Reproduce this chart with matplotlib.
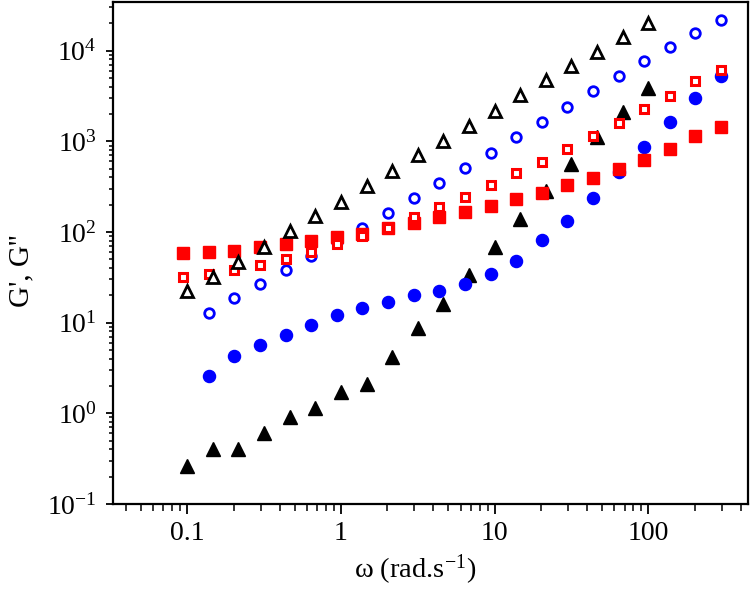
import matplotlib
matplotlib.use("Agg")
import matplotlib.pyplot as plt
from matplotlib.ticker import LogLocator, NullFormatter

plt.rcParams['font.family'] = ['Liberation Serif', 'DejaVu Serif']
plt.rcParams['mathtext.fontset'] = 'custom'
plt.rcParams['mathtext.rm'] = 'Liberation Serif'
plt.rcParams['mathtext.it'] = 'Liberation Serif:italic'

# frequencies (rad/s)
omega_tri = [0.1, 0.147, 0.215, 0.316, 0.464, 0.681, 1.0, 1.47, 2.15, 3.16,
             4.64, 6.81, 10.0, 14.7, 21.5, 31.6, 46.4, 68.1, 100.0]
omega_sq = [0.094, 0.138, 0.202, 0.297, 0.436, 0.640, 0.940, 1.38, 2.02, 2.97,
            4.36, 6.40, 9.40, 13.8, 20.2, 29.7, 43.6, 64.0, 94.0, 138.0, 202.0, 297.0]
omega_circ = omega_sq[1:]

# filled squares (red) - G'
red_Gp = [59.3, 59.8, 62.4, 68, 74, 80, 89, 95, 110, 127, 146, 167, 194, 230,
          272, 328, 398, 500, 624, 825, 1148, 1452]
# open squares (red) - G''
red_Gpp = [31.7, 34.5, 38.2, 43, 50.5, 59.8, 73, 90, 112, 146, 190, 246, 330, 445,
           597, 825, 1148, 1607, 2260, 3190, 4600, 6120]
# filled circles (blue) - G'
blue_Gp = [2.59, 4.3, 5.65, 7.4, 9.4, 12.1, 14.5, 16.7, 20.1, 22.4, 26.6, 34.5,
           48, 81, 133, 236, 456, 875, 1637, 2985, 5260]
# open circles (blue) - G''
blue_Gpp = [12.9, 18.6, 26.5, 38.2, 54.6, 78, 112, 161, 236, 345, 505, 750, 1109,
            1637, 2415, 3620, 5260, 7700, 10900, 15560, 21800]
# filled triangles (black) - G'
black_Gp = [0.26, 0.40, 0.40, 0.61, 0.90, 1.14, 1.71, 2.12, 4.17, 8.7, 16.1, 33.7,
            69, 139, 286, 563, 1109, 2120, 3850]
# open triangles (black) - G''
black_Gpp = [22.6, 32.2, 47.2, 69, 103, 150, 216, 322, 475, 703, 1019, 1490, 2180,
             3220, 4720, 6780, 9750, 14050, 20060]

red = '#ff0000'
blue = '#0000ff'
black = '#000000'

fig = plt.figure(figsize=(7.5, 5.9), dpi=100)
ax = fig.add_axes([0.151, 0.1458, 0.8463, 0.8513])

ax.plot(omega_tri, black_Gp, linestyle='none', marker='^', ms=10.3, color=black, mec=black, zorder=2)
ax.plot(omega_circ, blue_Gp, linestyle='none', marker='o', ms=8.7, color=blue, mec=blue, zorder=3)
ax.plot(omega_circ, blue_Gpp, linestyle='none', marker='o', ms=6.9, mfc='white',
        mec=blue, mew=2.0, zorder=4)
ax.plot(omega_sq, red_Gp, linestyle='none', marker='s', ms=8.0, color=red, mec=red, zorder=5)
ax.plot(omega_sq, red_Gpp, linestyle='none', marker='s', ms=6.0, mfc='white',
        mec=red, mew=2.2, zorder=6)
ax.plot(omega_tri, black_Gpp, linestyle='none', marker='^', ms=8.5, mfc='white',
        mec=black, mew=2.0, zorder=7)

ax.set_xscale('log')
ax.set_yscale('log')
ax.set_xlim(0.033, 445)
ax.set_ylim(0.1, 34700)

ax.xaxis.set_minor_locator(LogLocator(base=10, subs=range(2, 10), numticks=50))
ax.yaxis.set_minor_locator(LogLocator(base=10, subs=range(2, 10), numticks=50))
ax.xaxis.set_minor_formatter(NullFormatter())
ax.yaxis.set_minor_formatter(NullFormatter())
ax.set_xticks([0.1, 1, 10, 100])
ax.set_xticklabels(['0.1', '1', '10', '100'])
yt = [0.1, 1, 10, 100, 1000, 10000]
ax.set_yticks(yt)
ax.set_yticklabels([r'$\mathregular{10^{-1}}$', r'$\mathregular{10^{0}}$', r'$\mathregular{10^{1}}$',
                    r'$\mathregular{10^{2}}$', r'$\mathregular{10^{3}}$', r'$\mathregular{10^{4}}$'])

for s in ax.spines.values():
    s.set_linewidth(1.6)
ax.tick_params(axis='x', which='major', direction='out', length=7, width=1.3, labelsize=20, pad=5,
               top=False)
ax.tick_params(axis='x', which='minor', direction='out', length=5, width=1.1, top=False)
ax.tick_params(axis='y', which='major', direction='out', length=5, width=1.3, labelsize=20, pad=7,
               right=False)
ax.tick_params(axis='y', which='minor', direction='out', length=3, width=1.1, right=False)

ax.set_xlabel(r'ω (rad.s$^{\mathregular{-1}}$)', fontsize=20.5)
ax.xaxis.set_label_coords(0.475, -0.097, transform=ax.transAxes)
ax.xaxis.label.set_va('top')
ax.set_ylabel("G', G''", fontsize=21)
ax.yaxis.set_label_coords(-0.125, 0.464, transform=ax.transAxes)

fig.savefig('out.png', dpi=100)
